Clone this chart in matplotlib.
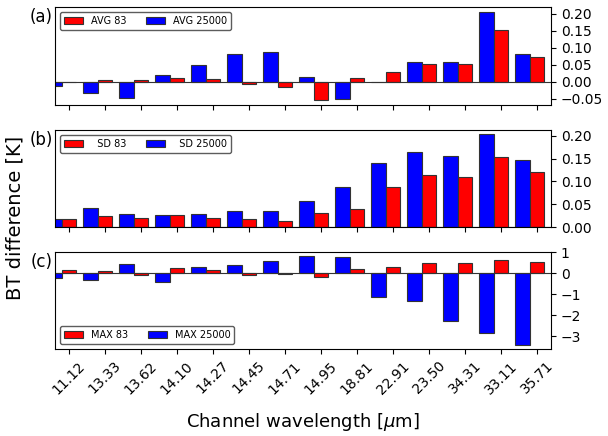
import numpy as np
from matplotlib import pyplot as plt

channels = ['11.12', '13.33', '13.62', '14.10', '14.27', '14.45', '14.71',
            '14.95', '18.81', '22.91', '23.50', '34.31', '33.11', '35.71']

avg_83 = [0.0, 0.006, 0.006, 0.011, 0.008, -0.007, -0.016, -0.054,
          0.011, 0.029, 0.053, 0.053, 0.152, 0.073]
avg_25000 = [-0.013, -0.034, -0.046, 0.020, 0.049, 0.082, 0.088, 0.015,
             -0.051, 0.0, 0.059, 0.058, 0.205, 0.082]

sd_83 = [0.018, 0.024, 0.020, 0.027, 0.020, 0.018, 0.014, 0.031,
         0.040, 0.088, 0.114, 0.109, 0.153, 0.121]
sd_25000 = [0.018, 0.042, 0.029, 0.027, 0.029, 0.036, 0.036, 0.0575,
            0.088, 0.140, 0.164, 0.156, 0.203, 0.146]

max_83 = [0.14, 0.10, -0.10, 0.24, 0.14, -0.10, -0.05, -0.20,
          0.20, 0.30, 0.48, 0.48, 0.62, 0.52]
max_25000 = [-0.25, -0.35, 0.44, -0.44, 0.30, 0.40, 0.59, 0.83,
             0.78, -1.14, -1.33, -2.29, -2.86, -3.43]

x_pos = np.arange(len(channels))
width = 0.4

fig = plt.figure(figsize=(6.08, 4.36), dpi=100)
ax_a = fig.add_axes([55 / 608, 1 - 105 / 436, 496 / 608, 98 / 436])
ax_b = fig.add_axes([55 / 608, 1 - 227 / 436, 496 / 608, 97 / 436])
ax_c = fig.add_axes([55 / 608, 1 - 349 / 436, 496 / 608, 97 / 436])

panels = [
    (ax_a, avg_83, avg_25000, 'AVG 83', 'AVG 25000', '(a)', 'upper left', (-0.068, 0.22)),
    (ax_b, sd_83, sd_25000, '  SD 83', '  SD 25000', '(b)', 'upper left', (0.0, 0.2125)),
    (ax_c, max_83, max_25000, 'MAX 83', 'MAX 25000', '(c)', 'lower left', (-3.6, 1.0)),
]

for ax, red_vals, blue_vals, red_lab, blue_lab, tag, loc, ylim in panels:
    ax.bar(x_pos - width, blue_vals, width, color='blue', edgecolor='#333333',
           linewidth=0.8, label=blue_lab)
    ax.bar(x_pos, red_vals, width, color='red', edgecolor='#333333',
           linewidth=0.8, label=red_lab)
    ax.axhline(0, color='#333333', linewidth=0.8)
    ax.set_xlim(-0.39, 13.39)
    ax.set_ylim(*ylim)
    ax.yaxis.tick_right()
    ax.set_xticks(x_pos)
    handles, labels = ax.get_legend_handles_labels()
    ax.legend(handles[::-1], labels[::-1], loc=loc, ncol=2, fontsize=7,
              edgecolor='#333333', fancybox=True)
    ax.text(-0.005, 0.9, tag, transform=ax.transAxes, ha='right', va='center',
            fontsize=12)

ax_a.set_xticklabels([])
ax_b.set_xticklabels([])
ax_a.set_yticks([-0.05, 0.0, 0.05, 0.10, 0.15, 0.20])
ax_b.set_yticks([0.0, 0.05, 0.10, 0.15, 0.20])
ax_c.set_yticks([-3, -2, -1, 0, 1])
ax_c.set_xticklabels(channels, rotation=45, ha='center')
ax_c.set_xlabel(r'Channel wavelength [$\mu$m]', fontsize=13, labelpad=10)
fig.text(0.025, 0.5, 'BT difference [K]', rotation=90, va='center', ha='center',
         fontsize=14)

plt.savefig('out.png', dpi=100)
